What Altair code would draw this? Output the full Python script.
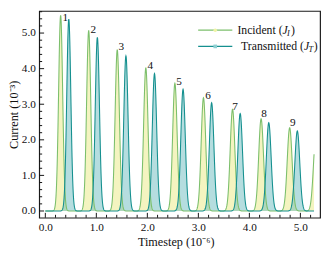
import numpy as np
import pandas as pd
import altair as alt

# ---- data ----
inc_c = [0.30, 0.85, 1.41, 1.97, 2.54, 3.10, 3.67, 4.23, 4.79, 5.305]
inc_h = [5.50, 5.07, 4.53, 4.02, 3.59, 3.18, 2.86, 2.59, 2.34, 2.12]
inc_w = [0.040, 0.041, 0.042, 0.043, 0.044, 0.045, 0.046, 0.047, 0.048, 0.049]
tr_c = [0.46, 1.02, 1.58, 2.14, 2.70, 3.26, 3.82, 4.38, 4.94]
tr_h = [5.39, 4.88, 4.36, 3.86, 3.42, 3.04, 2.74, 2.48, 2.25]
tr_w = [0.040, 0.041, 0.042, 0.043, 0.044, 0.045, 0.046, 0.047, 0.048]
t_start, t_end = 0.0, 5.27

lab_x = [0.39, 0.94, 1.49, 2.06, 2.62, 3.19, 3.72, 4.29, 4.85]
lab_y = [5.43, 5.08, 4.60, 4.07, 3.62, 3.23, 2.93, 2.73, 2.47]
lab_t = ["1", "2", "3", "4", "5", "6", "7", "8", "9"]

x_major = [0.0, 1.0, 2.0, 3.0, 4.0, 5.0]
x_minor = [0.2, 0.4, 0.6, 0.8, 1.2, 1.4, 1.6, 1.8, 2.2, 2.4, 2.6, 2.8,
           3.2, 3.4, 3.6, 3.8, 4.2, 4.4, 4.6, 4.8, 5.2]
y_major = [0.0, 1.0, 2.0, 3.0, 4.0, 5.0]
y_minor = [0.2, 0.4, 0.6, 0.8, 1.2, 1.4, 1.6, 1.8, 2.2, 2.4, 2.6, 2.8,
           3.2, 3.4, 3.6, 3.8, 4.2, 4.4, 4.6, 4.8, 5.2, 5.4, 5.6]

SERIF = "Liberation Serif"
C_INC_LINE = "#7cbf6c"
C_INC_FILL = "#f4f4c0"
C_TR_LINE = "#15908f"
C_TR_FILL = "#5ab4b8"

W, H = 288, 212

# ---- build pulse curves from peak parameters ----
t = np.arange(t_start, t_end + 1e-9, 0.004)


def pulses(cs, hs, ws):
    y = np.zeros_like(t)
    for c, h, w in zip(cs, hs, ws):
        y += h * np.exp(-0.5 * ((t - c) / w) ** 2)
    return y


df = pd.DataFrame({"t": t, "inc": pulses(inc_c, inc_h, inc_w),
                   "tr": pulses(tr_c, tr_h, tr_w)})

xs = alt.Scale(domain=[-0.12, 5.386], nice=False, zero=False)
ys = alt.Scale(domain=[-0.19, 5.62], nice=False, zero=False)

xaxis = alt.Axis(values=x_major, format=".1f", ticks=False, domain=False, grid=False,
                 labelFont=SERIF, labelFontSize=11.5, labelColor="#111", labelPadding=4,
                 title="Timestep (10⁻⁶)", titleFont=SERIF, titleFontSize=12.5,
                 titleFontWeight="normal", titleColor="#111",
                 titleBaseline="alphabetic", titleY=28, titleX=140)
yaxis = alt.Axis(values=y_major, format=".1f", ticks=False, domain=False, grid=False,
                 labelFont=SERIF, labelFontSize=11.5, labelColor="#111", labelPadding=4,
                 title="Current (10⁻³)", titleFont=SERIF, titleFontSize=12.5,
                 titleFontWeight="normal", titleColor="#111", titleX=-19, titleY=H / 2)


def X(f):
    return alt.X(f, scale=xs, axis=xaxis)


def Y(f):
    return alt.Y(f, scale=ys, axis=yaxis)


base = alt.Chart(df)
area_inc = base.mark_area(color=C_INC_FILL, opacity=1.0).encode(x=X("t:Q"), y=Y("inc:Q"))
area_tr = base.mark_area(color=C_TR_FILL, opacity=0.45).encode(x=X("t:Q"), y=Y("tr:Q"))
line_inc = base.mark_line(color=C_INC_LINE, strokeWidth=1.1).encode(x=X("t:Q"), y=Y("inc:Q"))
line_tr = base.mark_line(color=C_TR_LINE, strokeWidth=1.1).encode(x=X("t:Q"), y=Y("tr:Q"))

labels = alt.Chart(pd.DataFrame({"x": lab_x, "y": lab_y, "s": lab_t})).mark_text(
    font=SERIF, fontSize=11.5, color="#111", align="center", baseline="middle").encode(
    x=X("x:Q"), y=Y("y:Q"), text="s:N")


# inward ticks
def yticks(vals, length):
    return alt.Chart(pd.DataFrame({"v": vals})).mark_rule(color="#111", strokeWidth=1).encode(
        y=Y("v:Q"), x=alt.value(0), x2=alt.value(length))


def xticks(vals, length):
    return alt.Chart(pd.DataFrame({"v": vals})).mark_rule(color="#111", strokeWidth=1).encode(
        x=X("v:Q"), y=alt.value(H), y2=alt.value(H - length))


one = pd.DataFrame({"a": [0]})


def lg_rule(y, color):
    return alt.Chart(one).mark_rule(color=color, strokeWidth=1.2).encode(
        x=alt.value(163), x2=alt.value(198), y=alt.value(y))


def lg_pt(y, shape, color):
    return alt.Chart(one).mark_point(shape=shape, filled=True, size=14, color=color, opacity=1).encode(
        x=alt.value(180.5), y=alt.value(y))


def lg_txt(s, x, y, size=12, italic=False, align="left"):
    kw = dict(text=s, font=SERIF, fontSize=size, color="#111", align=align, baseline="middle")
    if italic:
        kw["fontStyle"] = "italic"
    return alt.Chart(one).mark_text(**kw).encode(x=alt.value(x), y=alt.value(y))


L1, L2 = 19.7, 36.3
legend = [
    lg_rule(L1, C_INC_LINE), lg_pt(L1, "circle", "#eef3a6"),
    lg_rule(L2, C_TR_LINE), lg_pt(L2, "square", "#8fd0d2"),
    lg_txt("Incident (", 249.5, L1, align="right"), lg_txt("J", 249.5, L1, italic=True),
    lg_txt("I", 254.2, L1 + 3, size=8.5, italic=True), lg_txt(")", 258.3, L1),
    lg_txt("Transmitted (", 271.5, L2, align="right"), lg_txt("J", 271.5, L2, italic=True),
    lg_txt("T", 276.2, L2 + 3, size=8.5, italic=True), lg_txt(")", 281.5, L2),
]

chart = alt.layer(
    area_inc, area_tr, line_inc, line_tr, labels,
    yticks(y_major, 5), yticks(y_minor, 3), xticks(x_major, 5), xticks(x_minor, 3),
    *legend
).properties(
    width=W, height=H,
    autosize=alt.AutoSizeParams(type="none"),
    padding={"left": 32, "top": 0, "right": 3, "bottom": 30},
).configure_view(stroke="#1a1a1a", strokeWidth=1.2)

chart.save("out.html", embed_options={"renderer": "svg", "actions": False})
